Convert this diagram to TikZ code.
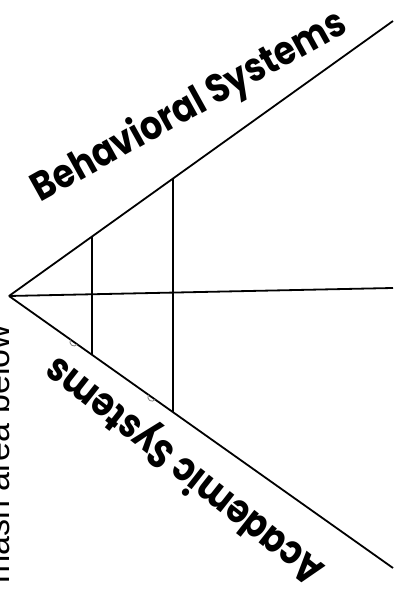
\documentclass[tikz,border=0pt]{standalone}
\usepackage{fontspec}
\setmainfont{Liberation Sans}
\newfontfamily\handfont{Poppins}
\usetikzlibrary{positioning,calc}
\newcommand{\narrow}[1]{\scalebox{0.86}[1]{#1}}

\begin{document}
\begin{tikzpicture}[x=1pt, y=1pt, every edge/.append style={line width=1.8pt}, tick/.style={gray, line width=0.8pt}, axislabel/.style={font=\handfont\bfseries\fontsize{40}{40}\selectfont, inner sep=0pt}]

\useasboundingbox (0,0) rectangle (394,601);

\coordinate (o) at (9,305);
\coordinate (b) at (393,580);
\coordinate (m) at (393,313);
\coordinate (a) at (393,33);
\coordinate (b1) at ($(o)!0.216!(b)$);
\coordinate (a1) at ($(o)!0.216!(a)$);
\coordinate (b2) at ($(o)!0.427!(b)$);
\coordinate (a2) at ($(o)!0.427!(a)$);

\path
    (o) edge (b)
    (o) edge (m)
    (o) edge (a)
    (b1) edge (a1)
    (b2) edge (a2);

\draw[tick] ($(o)!0.169!(a)$) ++(144.7:4) arc[start angle=144.7, end angle=324.7, radius=4];
\draw[tick] ($(o)!0.372!(a)$) ++(144.7:4) arc[start angle=144.7, end angle=324.7, radius=4];

\node[axislabel, rotate=29, anchor=base] (beh) at (195,484) {\narrow{Behavioral Systems}};
\node[axislabel, rotate=141.8, anchor=base] (acad) at (192,140) {\narrow{Academic Systems}};
\node[font=\fontsize{34}{34}\selectfont, rotate=90, anchor=base west, inner sep=0pt] (note) at (9,17) {mash area below};
\end{tikzpicture}
\end{document}
